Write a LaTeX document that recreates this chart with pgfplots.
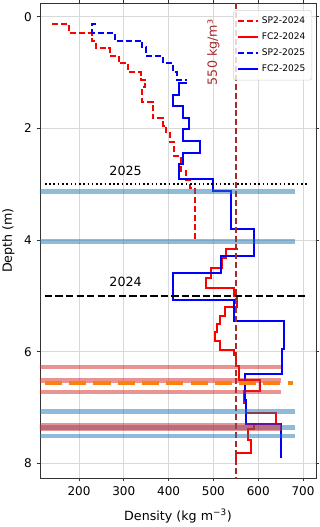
\documentclass[border=0pt]{standalone}
\usepackage{fontspec}
\setmainfont{DejaVu Sans}
\usepackage{pgfplots}
\pgfplotsset{compat=1.18}
\definecolor{brownl}{RGB}{165,42,42}
\definecolor{tabblue}{RGB}{31,119,180}
\definecolor{tabred}{RGB}{214,39,40}
\definecolor{taborange}{RGB}{255,127,14}
\begin{document}
\begin{tikzpicture}
\begin{axis}[
  scale only axis, width=207pt, height=356.25pt,
  xmin=113, xmax=729, ymin=-0.245, ymax=8.26, y dir=reverse,
  xtick={200,300,400,500,600,700}, ytick={0,2,4,6,8},
  grid=major, major grid style={gray!30, line width=0.6pt},
  tick align=outside, major tick length=2.6pt,
  tick style={black!80, line width=0.6pt},
  axis line style={black!80, line width=0.6pt},
  tick label style={font=\fontsize{9}{10}\selectfont},
  /pgf/number format/assume math mode=true,
  xlabel={Density (kg m\textsuperscript{−3})},
  ylabel={Depth (m)},
  label style={font=\fontsize{9.5}{11}\selectfont},
  xlabel style={at={(axis description cs:0.5,-0.08)}, anchor=center},
  ylabel style={at={(axis description cs:-0.115,0.5)}, anchor=center},
  legend cell align=left,
  legend style={at={(0.986,0.985)}, anchor=north east, fill=white, fill opacity=0.8,
    text opacity=1, draw=gray!35, rounded corners=2pt,
    font=\fontsize{6.8}{8}\selectfont, row sep=1.5pt, inner sep=2.8pt},
  legend image code/.code={\draw[#1] (0pt,0pt) -- (15pt,0pt);},
]
% SP2-2024
\addplot[red, line width=1.5pt, dash pattern=on 4.5pt off 2.2pt] coordinates {
(140,0.136)(178,0.136)(178,0.29)(228,0.29)(228,0.43)(238,0.43)(238,0.566)(269,0.566)
(269,0.70)(289,0.70)(289,0.834)(310,0.834)(310,0.99)(338,0.99)(338,1.13)(348,1.13)
(348,1.26)(341,1.26)(341,1.52)(365,1.52)(365,1.82)(388,1.82)(388,1.95)(395,1.95)
(395,2.09)(403,2.09)(403,2.24)(412,2.24)(412,2.50)(427,2.50)(427,2.77)(438,2.77)
(438,2.92)(447,2.92)(447,3.07)(458,3.07)(458,4.0)};
\addlegendentry{SP2-2024}
% FC2-2024
\addplot[red, line width=1.5pt] coordinates {
(555,4.16)(529,4.16)(529,4.32)(520,4.32)(520,4.50)(494,4.50)(494,4.68)(484,4.68)
(484,4.86)(545,4.86)(545,5.01)(552,5.01)(552,5.20)(525,5.20)(525,5.36)(514,5.36)
(514,5.50)(507,5.50)(507,5.64)(503,5.64)(503,5.80)(514,5.80)(514,5.96)(545,5.96)
(545,6.05)(550,6.05)(550,6.26)(558,6.26)(558,6.50)(603,6.50)(603,6.71)(568,6.71)
(568,6.92)(573,6.92)(573,7.10)(640,7.10)(640,7.30)(590,7.30)(590,7.39)(577,7.39)
(577,7.58)(585,7.58)(585,7.82)(551,7.82)(551,7.97)};
\addlegendentry{FC2-2024}
% SP2-2025
\addplot[blue, line width=1.5pt, dash pattern=on 4.5pt off 2.2pt] coordinates {
(239,0.136)(230,0.136)(230,0.29)(280,0.29)(280,0.43)(340,0.43)(340,0.55)(349,0.55)
(349,0.70)(388,0.70)(388,0.834)(410,0.834)(410,0.99)(418,0.99)(418,1.13)(440,1.13)};
\addlegendentry{SP2-2025}
% FC2-2025
\addplot[blue, line width=1.5pt] coordinates {
(440,1.19)(424,1.19)(424,1.40)(410,1.40)(410,1.60)(432,1.60)(432,1.82)(446,1.82)
(446,2.015)(433,2.015)(433,2.224)(470,2.224)(470,2.433)(432,2.433)(432,2.635)(424,2.635)
(424,2.91)(500,2.91)(500,3.13)(540,3.13)(540,3.80)(590,3.80)(590,4.28)(516,4.28)
(516,4.59)(410,4.59)(410,5.07)(545,5.07)(545,5.44)(657,5.44)(657,5.95)(654,5.95)
(654,6.39)(570,6.39)(570,6.86)(573,6.86)(573,7.30)(651,7.30)(651,7.90)};
\addlegendentry{FC2-2025}
% 550 line
\addplot[forget plot, brownl, line width=1.4pt, dash pattern=on 4.5pt off 2.2pt] coordinates {(550,-0.4)(550,8.4)};
% year lines
\addplot[forget plot, black, line width=1.4pt, dash pattern=on 1.2pt off 2pt] coordinates {(124,3.0)(708,3.0)};
\addplot[forget plot, black, line width=1.4pt, dash pattern=on 5.5pt off 2.4pt] coordinates {(124,5.0)(708,5.0)};
% bands blue
\addplot[forget plot, tabblue, opacity=0.5, line width=3.5pt] coordinates {(100,3.13)(683,3.13)};
\addplot[forget plot, tabblue, opacity=0.5, line width=3.5pt] coordinates {(100,4.03)(683,4.03)};
\addplot[forget plot, tabblue, opacity=0.5, line width=3.5pt] coordinates {(100,7.07)(683,7.07)};
\addplot[forget plot, tabblue, opacity=0.5, line width=3.5pt] coordinates {(100,7.35)(683,7.35)};
\addplot[forget plot, tabblue, opacity=0.5, line width=3.5pt] coordinates {(100,7.51)(683,7.51)};
% bands red
\addplot[forget plot, tabred, opacity=0.5, line width=3.5pt] coordinates {(100,6.27)(650,6.27)};
\addplot[forget plot, tabred, opacity=0.5, line width=3.5pt] coordinates {(100,6.51)(650,6.51)};
\addplot[forget plot, tabred, opacity=0.5, line width=3.5pt] coordinates {(100,6.72)(650,6.72)};
\addplot[forget plot, tabred, opacity=0.5, line width=3.5pt] coordinates {(100,7.31)(650,7.31)};
\addplot[forget plot, tabred, opacity=0.5, line width=3.5pt] coordinates {(100,7.38)(650,7.38)};
% orange
\addplot[forget plot, taborange, line width=3pt, dash pattern=on 12.8pt off 5.4pt] coordinates {(124,6.56)(677,6.56)};
% texts
\node[rotate=90, text=brownl, font=\fontsize{9.5}{11}\selectfont] at (axis cs:500,0.64) {550 kg/m³};
\node[font=\fontsize{9.5}{11}\selectfont] at (axis cs:304,2.755) {2025};
\node[font=\fontsize{9.5}{11}\selectfont] at (axis cs:304,4.75) {2024};
\end{axis}
\pgfresetboundingbox
\path[use as bounding box] (-30pt,-36.75pt) rectangle (210pt,358.5pt);
\end{tikzpicture}
\end{document}
